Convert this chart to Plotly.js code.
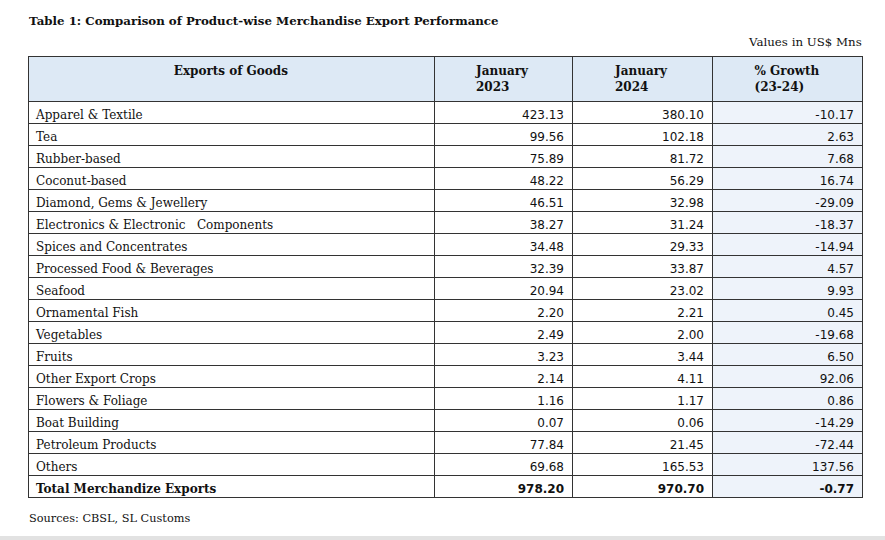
<!DOCTYPE html>
<html><head><meta charset="utf-8">
<script src="https://cdn.plot.ly/plotly-3.0.1.min.js"></script>
<style>html,body{margin:0;padding:0;background:#fff;}</style>
</head><body><div id="chart" style="width:885px;height:540px;"></div>
<script>
const products = ["Apparel & Textile","Tea","Rubber-based","Coconut-based","Diamond, Gems & Jewellery","Electronics & Electronic   Components","Spices and Concentrates","Processed Food & Beverages","Seafood","Ornamental Fish","Vegetables","Fruits","Other Export Crops","Flowers & Foliage","Boat Building","Petroleum Products","Others"];
const jan2023 = [423.13,99.56,75.89,48.22,46.51,38.27,34.48,32.39,20.94,2.20,2.49,3.23,2.14,1.16,0.07,77.84,69.68];
const jan2024 = [380.10,102.18,81.72,56.29,32.98,31.24,29.33,33.87,23.02,2.21,2.00,3.44,4.11,1.17,0.06,21.45,165.53];
const growth = [-10.17,2.63,7.68,16.74,-29.09,-18.37,-14.94,4.57,9.93,0.45,-19.68,6.50,92.06,0.86,-14.29,-72.44,137.56];
const totalLabel = "Total Merchandize Exports";
const total2023 = 978.20, total2024 = 970.70, totalGrowth = -0.77;
const headers = ["Exports of Goods","January<br>2023","January<br>2024","% Growth<br>(23-24)"];

// non-breaking spaces so the table does not try to wrap / re-measure rows
const nb = s => s.replace(/ /g,'\u00a0');
const fmt = v => v.toFixed(2);
const names = products.concat([totalLabel]).map(nb);
const col1 = jan2023.concat([total2023]).map(fmt);
const col2 = jan2024.concat([total2024]).map(fmt);
const col3 = growth.concat([totalGrowth]).map(fmt);
const nRows = names.length;
const rowWeight = names.map((_,i)=> i===nRows-1 ? 'bold' : 'normal');

const W=885,H=540;
const trace = {
  type:'table',
  domain:{x:[28/W,862/W], y:[1-502/H, 1-56/H]},
  columnwidth:[406,138,140,150],
  header:{
    values: headers.map(h=>"<b>"+h+"</b>"),
    align:'center', height:39,
    fill:{color:'#dde9f5'},
    line:{color:'#333',width:1},
    font:{family:'DejaVu Serif', size:12, color:'#111'}
  },
  cells:{
    // product names go through the per-cell prefix so "&" is drawn as plain text
    values:[names.map(()=>''),col1,col2,col3],
    prefix:[names,'','',''],
    align:['left','right','right','right'],
    height:22,
    fill:{color:['#ffffff','#ffffff','#ffffff','#eef3fa']},
    line:{color:'#333',width:1},
    font:{family:['DejaVu Serif','DejaVu Sans','DejaVu Sans','DejaVu Sans'], size:12, color:'#111',
          weight:[rowWeight,rowWeight,rowWeight,rowWeight]}
  }
};
const layout = {
  width:W,height:H,margin:{l:0,r:0,t:0,b:0},
  paper_bgcolor:'#fff',
  showlegend:false,
  annotations:[
    {text:"<b>Table 1: Comparison of Product-wise Merchandise Export Performance</b>",xref:'paper',yref:'paper',x:27/W,y:1-21/H,xanchor:'left',yanchor:'middle',showarrow:false,font:{family:'DejaVu Serif',size:11.8,color:'#111'}},
    {text:"Values in US$ Mns",xref:'paper',yref:'paper',x:864/W,y:1-42/H,xanchor:'right',yanchor:'middle',showarrow:false,font:{family:'DejaVu Serif',size:11.8,color:'#111'}},
    {text:"Sources: CBSL, SL Customs",xref:'paper',yref:'paper',x:27/W,y:1-518/H,xanchor:'left',yanchor:'middle',showarrow:false,font:{family:'DejaVu Serif',size:11.3,color:'#111'}}
  ],
  shapes:[{type:'rect',xref:'paper',yref:'paper',x0:0,x1:1,y0:0,y1:4/H,fillcolor:'#e2e2e2',line:{width:0}}]
};
Plotly.newPlot('chart',[trace],layout,{displayModeBar:false,staticPlot:true});
</script></body></html>
